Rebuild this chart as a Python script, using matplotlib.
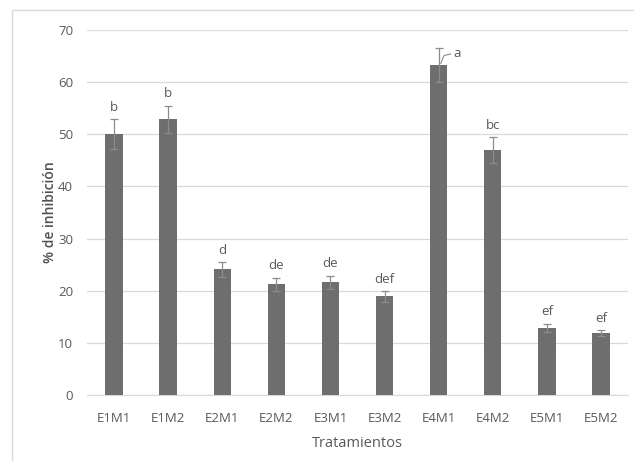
import numpy as np
import matplotlib.pyplot as plt
from matplotlib.patches import Rectangle

plt.rcParams['font.family'] = ['Open Sans', 'DejaVu Sans']

tratamientos = ["E1M1", "E1M2", "E2M1", "E2M2", "E3M1", "E3M2", "E4M1", "E4M2", "E5M1", "E5M2"]
inhibicion = [50.0, 52.9, 24.1, 21.2, 21.6, 18.9, 63.3, 46.9, 12.9, 11.9]
error = [2.9, 2.6, 1.4, 1.3, 1.3, 1.0, 3.2, 2.5, 0.8, 0.6]
letras = ["b", "b", "d", "de", "de", "def", "a", "bc", "ef", "ef"]

txt = "#595959"
bar_col = "#6e6e6e"

fig = plt.figure(figsize=(6.34, 4.61), dpi=100)
ax = fig.add_axes([87 / 634, 1 - 395 / 461, 541 / 634, 365 / 461])

# light frame around the chart area
fig.patches.append(Rectangle((12 / 634, -0.01), 1.0, 1 - 10 / 461 + 0.01,
                             transform=fig.transFigure, fill=False,
                             edgecolor="#d9d9d9", linewidth=1.0))

x = np.arange(len(tratamientos))
ax.bar(x, inhibicion, width=0.32, color=bar_col, zorder=3,
       yerr=error, ecolor="#8c8c8c", capsize=3,
       error_kw={"elinewidth": 0.9, "capthick": 0.9, "zorder": 4})

for i, (v, e, l) in enumerate(zip(inhibicion, error, letras)):
    if l == "a":
        ax.plot([x[i] + 0.04, x[i] + 0.1, x[i] + 0.22], [v + 0.3, v + 1.8, v + 2.1],
                color="#8c8c8c", lw=0.8, zorder=4)
        ax.text(x[i] + 0.28, v + 2.1, l, ha="left", va="center", fontsize=9.5, color=txt)
    else:
        ax.text(x[i], v + e + 1.0, l, ha="center", va="bottom", fontsize=9.5, color=txt)

ax.set_xlim(-0.5, len(tratamientos) - 0.5)
ax.set_ylim(0, 70)
ax.set_yticks(np.arange(0, 71, 10))
ax.set_xticks(x)
ax.set_xticklabels(tratamientos)
ax.yaxis.grid(True, color="#d9d9d9", linewidth=0.9, zorder=0)
ax.tick_params(axis="x", length=0, labelsize=9.5, labelcolor=txt, pad=12)
ax.tick_params(axis="y", length=0, labelsize=9.5, labelcolor=txt, pad=10)
for s in ["top", "right", "left"]:
    ax.spines[s].set_visible(False)
ax.spines["bottom"].set_color("#d9d9d9")

ax.set_xlabel("Tratamientos", fontsize=10.5, color=txt, labelpad=8)
ax.set_ylabel("% de inhibición", fontsize=10, color="#505050",
              fontweight="semibold", labelpad=1)

fig.savefig("out.png", dpi=100)
